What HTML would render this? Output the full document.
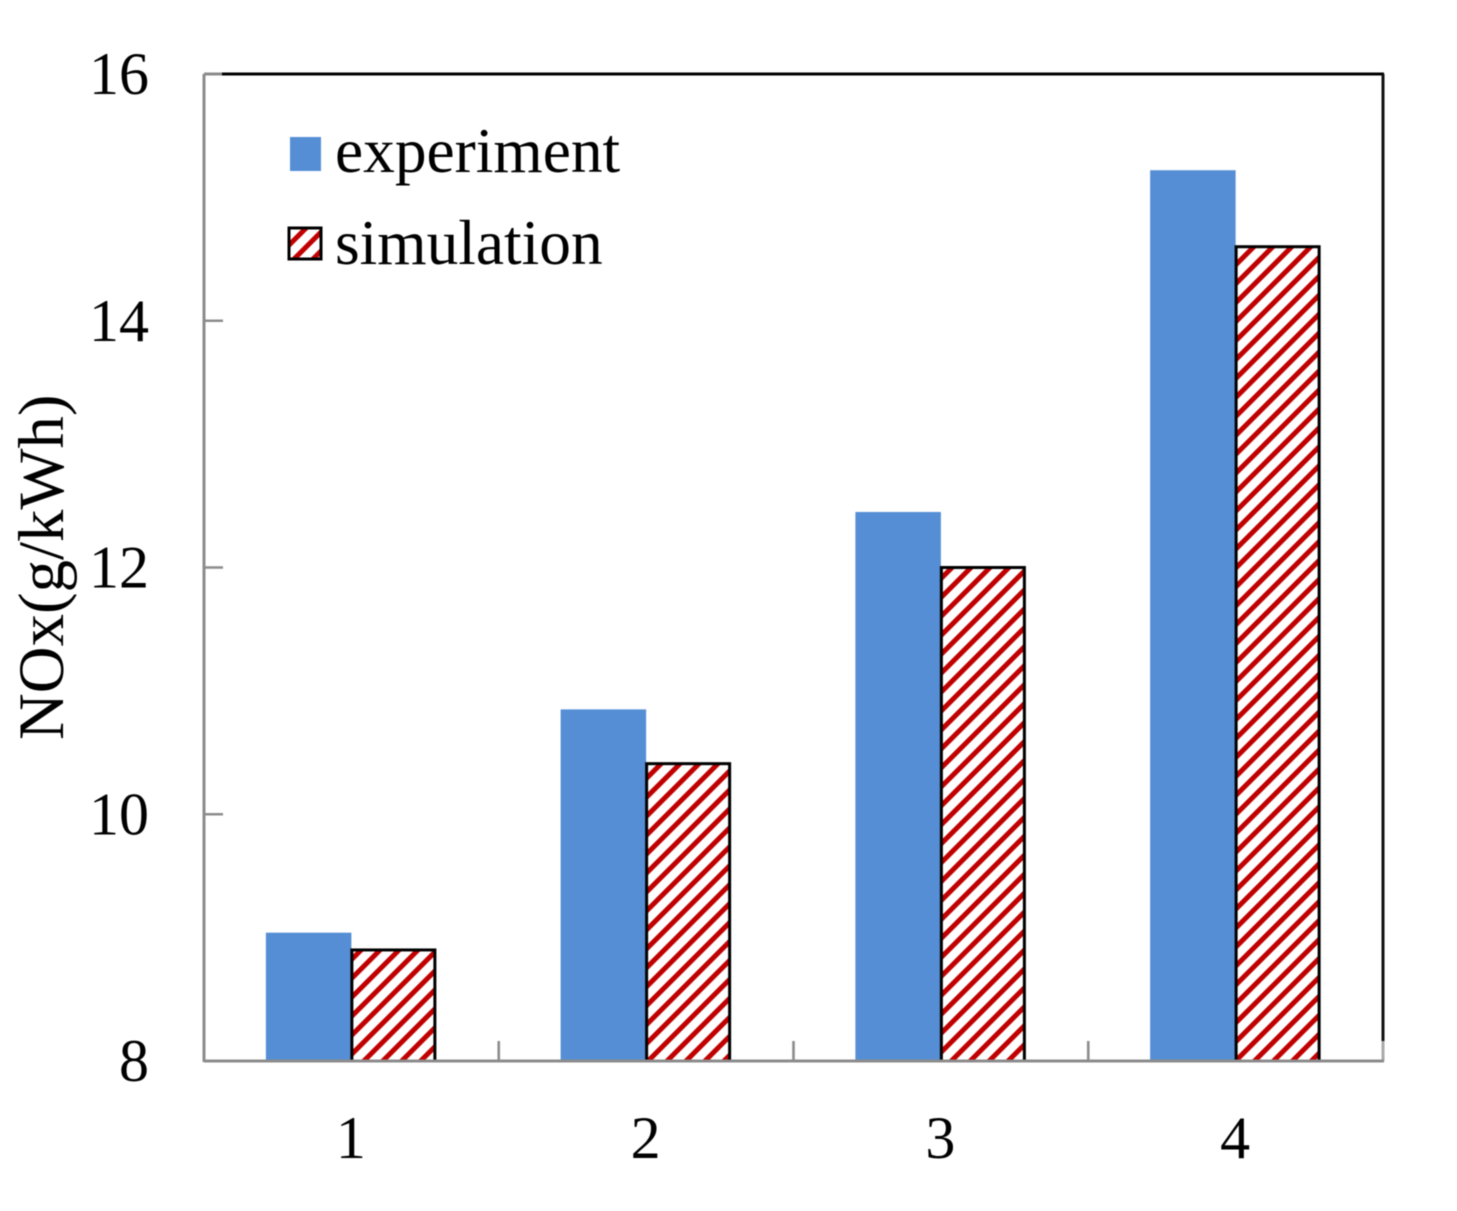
<!DOCTYPE html>
<html>
<head>
<meta charset="utf-8">
<title>NOx chart</title>
<style>
html,body{margin:0;padding:0;background:#fff;width:1457px;height:1211px;overflow:hidden}
svg{display:block;filter:blur(0.6px)}
text{font-family:"Liberation Serif",serif;fill:#000}
</style>
</head>
<body>
<svg id="chart" xmlns="http://www.w3.org/2000/svg" width="1457" height="1211" viewBox="0 0 1457 1211">
  <defs>
    <pattern id="hatch" patternUnits="userSpaceOnUse" width="13.4" height="13.4" patternTransform="rotate(45 0 0)">
      <rect width="13.4" height="13.4" fill="#fff"/>
      <rect width="5" height="13.4" fill="#c00000"/>
    </pattern>
  </defs>
  <g id="bars"></g>
  <g id="axes"></g>
  <g>
    <rect x="290" y="137" width="31" height="34" fill="#558ed5"/>
    <text x="335" y="172" font-size="63.4">experiment</text>
    <rect x="289" y="228" width="32" height="31" fill="url(#hatch)" stroke="#000" stroke-width="3"/>
    <text x="335" y="264" font-size="63.4">simulation</text>
  </g>
  <text transform="translate(63 740) rotate(-90)" font-size="64.8">NOx(g/kWh)</text>
</svg>
<script>
const categories = ['1', '2', '3', '4'];
const experimentValues = [9.04, 10.85, 12.45, 15.22];
const simulationValues = [8.9, 10.41, 12.0, 14.6];
const yTickLabels = [8, 10, 12, 14, 16];

const NS = 'http://www.w3.org/2000/svg';
const plotLeft = 204, plotRight = 1383, plotTop = 74, plotBottom = 1061;
const yMin = 8, yMax = 16;
const band = (plotRight - plotLeft) / categories.length;
const yScale = v => plotBottom - (v - yMin) / (yMax - yMin) * (plotBottom - plotTop);
const xCenter = i => plotLeft + band * (i + 0.5);

function make(parent, tag, props) {
  const el = document.createElementNS(NS, tag);
  for (const k in props) el.setAttribute(k, props[k]);
  parent.appendChild(el);
  return el;
}

const barsG = document.getElementById('bars');
const axesG = document.getElementById('axes');

categories.forEach((c, i) => {
  const cx = xCenter(i);
  const y1 = yScale(experimentValues[i]);
  const expBar = make(barsG, 'rect', {x: cx - 85.5, y: y1, width: 85.5, height: plotBottom - y1, fill: '#558ed5'});
  
  
  const y2 = yScale(simulationValues[i]);
  const simBar = make(barsG, 'rect', {x: cx + 0.5, y: y2, width: 83, height: plotBottom - y2, fill: 'url(#hatch)', stroke: '#000', 'stroke-width': 3});
  
  
  const lab = make(axesG, 'text', {x: cx - 0.5, y: 1158, 'font-size': 60, 'text-anchor': 'middle'});
  lab.textContent = c;
  
  
});

yTickLabels.forEach(v => {
  const y = yScale(v);
  const lab = make(axesG, 'text', {x: 149, y: y + 20, 'font-size': 60, 'text-anchor': 'end'});
  lab.textContent = v;
  
  
  if (v > yMin && v < yMax) {
    const t = make(axesG, 'line', {x1: plotLeft, x2: plotLeft + 19, y1: y, y2: y, stroke: '#8c8c8c', 'stroke-width': 2.6});
    
    
  }
});

const frameParts = [
  ['frame-top-gray', plotLeft, plotTop, plotLeft + 18, plotTop, '#8c8c8c'],
  ['frame-top', plotLeft + 18, plotTop, plotRight + 1, plotTop, '#000'],
  ['frame-right', plotRight, plotTop, plotRight, plotBottom - 20, '#111'],
  ['frame-right-lower', plotRight, plotBottom - 20, plotRight, plotBottom, '#aaa'],
  ['frame-left', plotLeft, plotTop, plotLeft, plotBottom + 1, '#8c8c8c'],
  ['frame-bottom', plotLeft, plotBottom, plotRight + 1, plotBottom, '#8c8c8c']
];
frameParts.forEach(p => {
  const l = make(axesG, 'line', {x1: p[1], y1: p[2], x2: p[3], y2: p[4], stroke: p[5], 'stroke-width': 3});
  
  
});

for (let i = 1; i < categories.length; i++) {
  const x = plotLeft + band * i;
  const t = make(axesG, 'line', {x1: x, x2: x, y1: plotBottom, y2: plotBottom - 20, stroke: '#8c8c8c', 'stroke-width': 2.6});
  
  
}
</script>
</body>
</html>
